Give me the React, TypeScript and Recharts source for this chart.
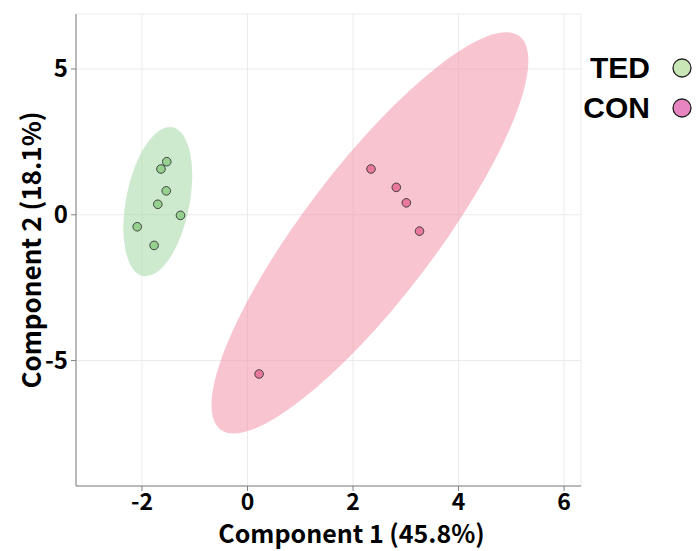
import React from 'react';
import { ScatterChart, Scatter, XAxis, YAxis, CartesianGrid } from 'recharts';

const groups = ['TED', 'CON'];
const tedX = [-1.53, -1.64, -1.54, -1.7, -1.27, -2.09, -1.77];
const tedY = [1.82, 1.57, 0.82, 0.36, -0.02, -0.41, -1.05];
const conX = [2.34, 2.82, 3.01, 3.26, 0.22];
const conY = [1.57, 0.94, 0.41, -0.56, -5.46];
// confidence ellipses: [center, end of semi-axis 1, end of semi-axis 2]
const tedEllipseX = [-1.7, -1.42, -1.11];
const tedEllipseY = [0.45, 3.0, 0.23];
const conEllipseX = [2.32, 5.155, 3.31];
const conEllipseY = [-0.62, 6.12, -1.99];
const xTicks = [-2, 0, 2, 4, 6];
const yTicks = [-5, 0, 5];
const xDomain = [-3.25, 6.32];
const yDomain = [-9.3, 6.885];

const FONT = '"Noto Sans CJK SC", "Noto Sans", sans-serif';
const LEGEND_FONT = '"Liberation Sans", Arial, sans-serif';
const pointFill = { TED: '#96d190', CON: '#e8799c' };
const ellipseFill = { TED: '#9bd39d', CON: '#ef89a1' };
const legendFill = { TED: '#c8e6b6', CON: '#e685c0' };

const toPts = (xs: number[], ys: number[]) => xs.map((x, i) => ({ x, y: ys[i] }));
const tedData = toPts(tedX, tedY);
const conData = toPts(conX, conY);
const tedEll = toPts(tedEllipseX, tedEllipseY);
const conEll = toPts(conEllipseX, conEllipseY);

const ellipseLine = (fill: string) => (props: any) => {
  const pts = props.points;
  if (!pts || pts.length < 3) return <g />;
  const [c, a, b] = pts;
  return (
    <ellipse
      cx={0}
      cy={0}
      rx={1}
      ry={1}
      fill={fill}
      fillOpacity={0.5}
      stroke="none"
      transform={`matrix(${a.x - c.x} ${a.y - c.y} ${b.x - c.x} ${b.y - c.y} ${c.x} ${c.y})`}
    />
  );
};

const dot = (fill: string) => (p: any) => (
  <circle cx={p.cx} cy={p.cy} r={4.3} fill={fill} stroke="#333" strokeWidth={0.9} />
);

const XLabel = (props: any) => {
  const vb = props.viewBox;
  return (
    <text x={vb.x + vb.width / 2 + 23} y={vb.y + 57} textAnchor="middle" fontFamily={FONT} fontWeight="bold" fontSize={25} fill="#000">
      Component 1 (45.8%)
    </text>
  );
};

const YLabel = (props: any) => {
  const vb = props.viewBox;
  const cx = 29;
  const cy = vb.y + vb.height / 2;
  return (
    <text x={cx} y={cy} transform={`rotate(-90 ${cx} ${cy})`} textAnchor="middle" dominantBaseline="central" fontFamily={FONT} fontWeight="bold" fontSize={26} fill="#000">
      Component 2 (18.1%)
    </text>
  );
};

export default function App() {
  return (
    <div style={{ position: 'absolute', left: 0, top: 0, width: 697, height: 551, background: '#fff' }}>
      <ScatterChart width={697} height={551} margin={{ top: 14, right: 116, left: 0, bottom: 0 }}>
        <CartesianGrid stroke="#ebebeb" strokeWidth={1} />
        <XAxis
          type="number"
          dataKey="x"
          domain={xDomain}
          ticks={xTicks}
          allowDataOverflow
          height={65}
          tickSize={5}
          tickMargin={3}
          axisLine={{ stroke: '#7f7f7f' }}
          tickLine={{ stroke: '#7f7f7f' }}
          tick={{ fill: '#000', fontFamily: FONT, fontSize: 23, fontWeight: 'bold' }}
          label={<XLabel />}
        />
        <XAxis xAxisId="top" orientation="top" type="number" dataKey="x" domain={xDomain} ticks={[]} tick={false} tickLine={false} height={0} allowDataOverflow axisLine={{ stroke: '#4d4d4d', strokeWidth: 1.5 }} />
        <YAxis
          type="number"
          dataKey="y"
          domain={yDomain}
          ticks={yTicks}
          allowDataOverflow
          width={76}
          tickSize={5}
          tickMargin={3}
          axisLine={{ stroke: '#7f7f7f' }}
          tickLine={{ stroke: '#7f7f7f' }}
          tick={{ fill: '#000', fontFamily: FONT, fontSize: 24, fontWeight: 'bold' }}
          label={<YLabel />}
        />
        <YAxis yAxisId="right" orientation="right" type="number" dataKey="y" domain={yDomain} ticks={[]} tick={false} tickLine={false} width={0} allowDataOverflow axisLine={{ stroke: '#4d4d4d', strokeWidth: 1.5 }} />
        <Scatter name="TED ellipse" data={tedEll} isAnimationActive={false} shape={() => <g />} line={ellipseLine(ellipseFill.TED)} lineType="joint" />
        <Scatter name="CON ellipse" data={conEll} isAnimationActive={false} shape={() => <g />} line={ellipseLine(ellipseFill.CON)} lineType="joint" />
        <Scatter name={groups[0]} data={tedData} isAnimationActive={false} shape={dot(pointFill.TED)} />
        <Scatter name={groups[1]} data={conData} isAnimationActive={false} shape={dot(pointFill.CON)} />
      </ScatterChart>
      <div style={{ position: 'absolute', left: 570, top: 48, fontFamily: LEGEND_FONT, fontWeight: 'bold', fontSize: 30, color: '#000' }}>
        {groups.map((g) => (
          <div key={g} style={{ display: 'flex', alignItems: 'center', justifyContent: 'flex-end', width: 124, height: 40 }}>
            <span style={{ display: 'inline-block', height: 34, lineHeight: '34px' }}>{g}</span>
            <svg width={24} height={24} style={{ marginLeft: 20 }}>
              <circle cx={12} cy={12} r={9} fill={legendFill[g as 'TED' | 'CON']} stroke="#222" strokeWidth={1.3} />
            </svg>
          </div>
        ))}
      </div>
    </div>
  );
}
